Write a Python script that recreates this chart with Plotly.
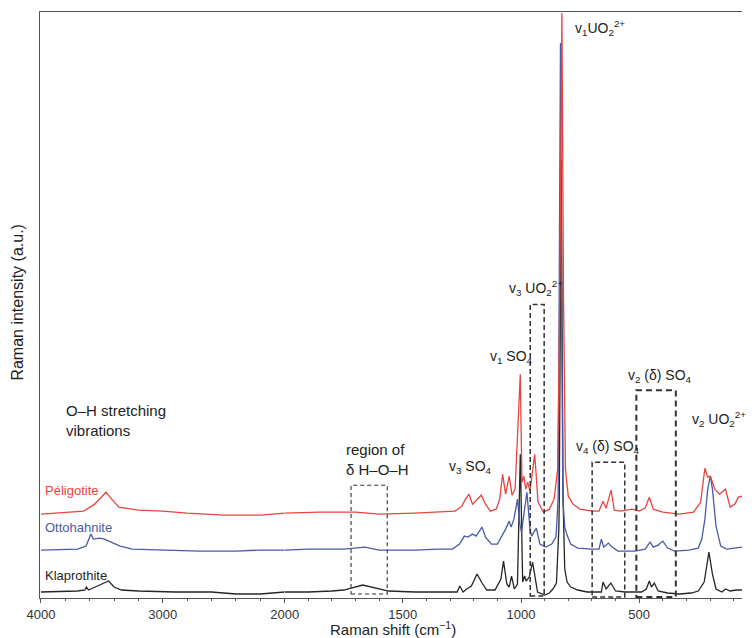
import plotly.graph_objects as go

# ---------------- data (Raman shift in cm-1, intensity in a.u.) ----------------
kla_w = [4000, 3700, 3640, 3627, 3610, 3560, 3500, 3445, 3400, 3340, 3200, 2900, 2600, 2400, 2200, 2000,
         1900, 1800, 1750, 1670, 1620, 1560, 1450, 1300, 1270, 1259, 1245, 1230, 1210, 1186, 1165, 1145,
         1110, 1085, 1074, 1060, 1050, 1040, 1028, 1015, 1003, 993, 985, 978, 965, 951, 940, 930, 900,
         880, 865, 850, 840, 838, 830, 822, 815, 805, 790, 760, 720, 660, 653, 640, 620, 600, 560, 490,
         470, 457, 448, 436, 420, 380, 330, 280, 250, 225, 205, 190, 175, 150, 135, 115, 90, 65]
kla_i = [6, 7, 8, 11, 8, 11, 14, 17, 11, 8, 7, 6, 6, 4, 4, 6,
         6, 7, 8, 13, 10, 7, 6, 6, 6, 12, 6, 9, 12, 24, 15, 8,
         8, 19, 37, 14, 11, 22, 9, 14, 144, 16, 22, 17, 21, 36, 19, 6, 3,
         5, 9, 15, 69, 99, 439, 99, 29, 16, 11, 8, 6, 6, 16, 9, 15, 7, 6, 6,
         9, 17, 11, 15, 7, 5, 4, 5, 7, 16, 46, 24, 9, 6, 9, 7, 8, 8]

ott_w = [4000, 3700, 3630, 3590, 3570, 3520, 3480, 3420, 3350, 3250, 3000, 2700, 2400, 2200, 2000,
         1900, 1750, 1660, 1600, 1450, 1350, 1290, 1260, 1240, 1225, 1205, 1190, 1165, 1150, 1125,
         1100, 1080, 1065, 1050, 1042, 1030, 1015, 1005, 998, 975, 962, 955, 935, 920, 895, 870, 852,
         843, 838, 833, 828, 823, 815, 805, 790, 760, 700, 670, 660, 650, 630, 615, 590, 520, 475,
         454, 440, 420, 400, 380, 350, 290, 250, 235, 222, 210, 199, 190, 175, 155, 130, 100, 65]
ott_i = [48, 49, 52, 64, 59, 60, 59, 56, 52, 49, 48, 47, 47, 48, 48,
         49, 49, 51, 48, 48, 49, 49, 54, 62, 61, 64, 62, 71, 61, 54,
         54, 62, 69, 77, 71, 79, 99, 74, 66, 106, 69, 62, 70, 54, 51, 54, 61,
         99, 299, 556, 299, 99, 71, 63, 54, 50, 49, 49, 59, 51, 55, 51, 47, 47, 49,
         56, 51, 53, 57, 50, 47, 48, 50, 59, 79, 109, 122, 109, 72, 52, 49, 50, 51]

pel_w = [4000, 3700, 3650, 3560, 3500, 3466, 3420, 3360, 3200, 3000, 2800, 2500, 2200, 2000,
         1850, 1700, 1600, 1450, 1350, 1280, 1250, 1235, 1220, 1205, 1185, 1168, 1150, 1130, 1105,
         1090, 1078, 1065, 1050, 1038, 1025, 1003, 996, 988, 980, 972, 962, 942, 928, 905, 880, 860,
         845, 836, 827, 820, 812, 800, 780, 750, 700, 670, 653, 640, 619, 605, 580, 530, 500, 475,
         457, 440, 400, 330, 270, 240, 222, 210, 199, 180, 160, 135, 115, 95, 80, 65]
pel_i = [84, 86, 87, 94, 101, 106, 99, 91, 88, 87, 85, 83, 83, 85,
         86, 86, 84, 85, 86, 87, 92, 99, 104, 94, 99, 103, 94, 87, 89,
         99, 124, 104, 122, 103, 109, 224, 116, 122, 109, 116, 107, 144, 96, 86, 89, 99,
         129, 299, 586, 299, 129, 102, 94, 89, 87, 87, 97, 90, 108, 88, 87, 89, 87, 90,
         101, 89, 86, 84, 86, 96, 130, 121, 122, 109, 104, 109, 91, 94, 101, 102]

series = [("Klaprothite", kla_w, kla_i, "#262626"),
          ("Ottohahnite", ott_w, ott_i, "#4b5aa6"),
          ("Péligotite", pel_w, pel_i, "#e5443f")]

x_ticks_high = [4000, 3000, 2000]
x_ticks_low = [1500, 1000, 500]

# ---------------- figure ----------------
fig = go.Figure()
for name, w, inten, col in series:
    hw = [a for a in w if a >= 2000]
    hi = [b for a, b in zip(w, inten) if a >= 2000]
    lw = [a for a in w if a <= 2000]
    li = [b for a, b in zip(w, inten) if a <= 2000]
    fig.add_trace(go.Scatter(x=hw, y=hi, mode="lines", line=dict(color=col, width=1.3),
                             xaxis="x", yaxis="y", showlegend=False, name=name))
    fig.add_trace(go.Scatter(x=lw, y=li, mode="lines", line=dict(color=col, width=1.3),
                             xaxis="x2", yaxis="y", showlegend=False, name=name))

axis_common = dict(showline=True, linecolor="#555", linewidth=1.3, mirror=True,
                   ticks="outside", ticklen=4, tickcolor="#555", showgrid=False, zeroline=False,
                   tickfont=dict(family="Liberation Sans, Arial", size=13, color="#333"))
fig.update_layout(
    width=748, height=630,
    margin=dict(l=32, r=0, t=4, b=40),
    paper_bgcolor="white", plot_bgcolor="white",
    xaxis=dict(domain=[0, 0.3485], range=[4008, 2000], tickvals=x_ticks_high, anchor="y",
               minor=dict(dtick=200, tick0=0, ticklen=2, ticks="outside", tickcolor="#555"),
               **axis_common),
    xaxis2=dict(domain=[0.3485, 1], range=[2000, 65], tickvals=x_ticks_low, anchor="y",
                minor=dict(dtick=100, tick0=0, ticklen=2, ticks="outside", tickcolor="#555"),
                **axis_common),
    yaxis=dict(range=[0, 587], showline=True, linecolor="#555", linewidth=1.3,
               showticklabels=False, ticks="", showgrid=False, zeroline=False),
    font=dict(family="Liberation Sans, Arial", color="#222"),
)

# dashed region boxes
boxes = [(1719, 1566, 4, 113, 1.1, "4px,3px"),
         (961, 902, 2, 294, 1.5, "5px,3px"),
         (699, 561, 1, 136, 1.5, "5px,3px"),
         (512, 345, 1, 208, 2.0, "6px,4px")]
for x0, x1, y0, y1, lw_, ds in boxes:
    fig.add_shape(type="rect", xref="x2", yref="y", x0=x0, x1=x1, y0=y0, y1=y1,
                  line=dict(color="#333", width=lw_, dash=ds))

def ann(text, x, y, xref="x2", size=14, color="#222"):
    fig.add_annotation(text=text, x=x, y=y, xref=xref, yref="y", showarrow=False,
                       xanchor="left", yanchor="middle", align="left",
                       font=dict(size=size, color=color, family="Liberation Sans, Arial"))

ann("O–H stretching<br>vibrations", 3807, 178, xref="x", size=15)
ann("Péligotite", 3984, 108, xref="x", size=13, color="#e5443f")
ann("Ottohahnite", 3984, 71, xref="x", size=13, color="#4b5aa6")
ann("Klaprothite", 3984, 23, xref="x", size=13, color="#262626")
ann("region of<br>δ H–O–H", 1749, 139, size=15)
ann("v<sub>3</sub> SO<sub>4</sub>", 1313, 131)
ann("v<sub>1</sub> SO<sub>4</sub>", 1140, 241)
ann("v<sub>3</sub> UO<sub>2</sub><sup>2+</sup>", 1060, 311)
ann("v<sub>1</sub>UO<sub>2</sub><sup>2+</sup>", 782, 571)
ann("v<sub>4</sub> (δ) SO<sub>4</sub>", 774, 151)
ann("v<sub>2</sub> (δ) SO<sub>4</sub>", 555, 222)
ann("v<sub>2</sub> UO<sub>2</sub><sup>2+</sup>", 284, 179)

fig.add_annotation(text="Raman shift (cm<sup>−1</sup>)", xref="paper", yref="paper",
                   x=0.503, y=-0.052, showarrow=False, xanchor="center", yanchor="middle",
                   font=dict(size=15, color="#222"))
fig.add_annotation(text="Raman intensity (a.u.)", xref="paper", yref="paper",
                   x=-0.032, y=0.505, showarrow=False, textangle=-90,
                   xanchor="center", yanchor="middle", font=dict(size=16, color="#222"))

fig.write_html("out.html")
